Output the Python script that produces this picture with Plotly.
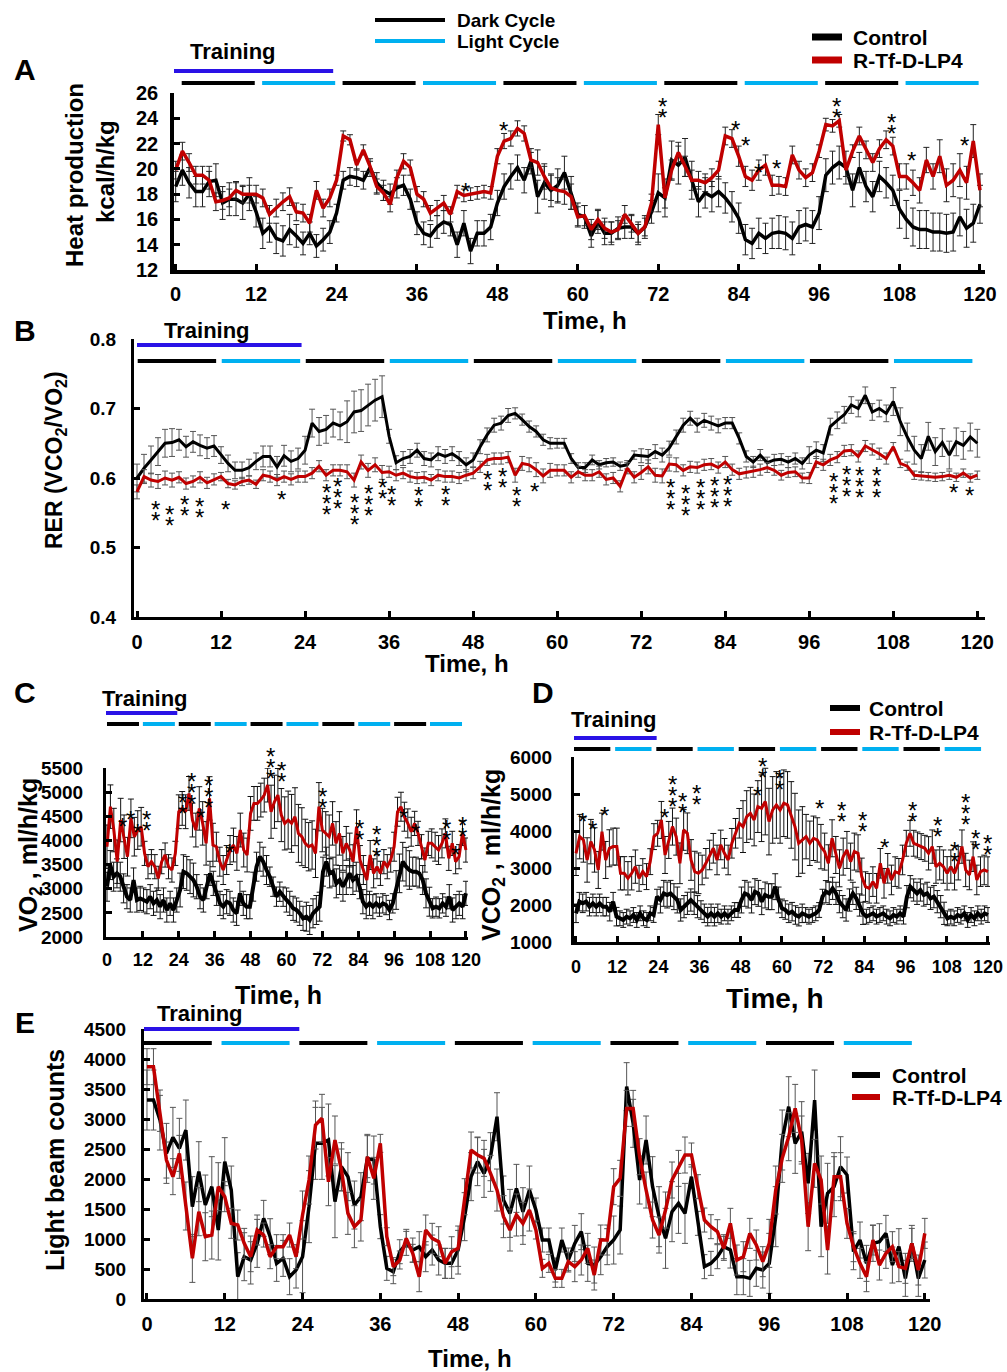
import numpy as np
import plotly.graph_objects as go

W, H = 1007, 1372
SANS = "Liberation Sans, Arial"
RED = "#C00000"
BLUE_L = "#00B0F0"
BLUE_T = "#2A12E6"

# ---------------- DATA ----------------
hours = list(range(121))
tick_hours = [0, 12, 24, 36, 48, 60, 72, 84, 96, 108, 120]
training_period = [0, 23.5]

# Panel A: heat production (kcal/h/kg)
heat_control = [18.6, 19.9, 18.9, 18.2, 18.2, 19.0, 19.1, 17.3, 17.6, 17.6, 17.3, 18.0, 16.6, 14.9, 15.4, 14.5, 14.3, 15.2, 14.7, 14.1,
                14.9, 13.9, 14.4, 15.0, 16.5, 19.1, 19.4, 19.3, 19.1, 20.1, 18.9, 18.3, 18.0, 18.5, 18.7, 17.6, 15.7, 14.9, 14.7, 15.4,
                15.8, 15.6, 14.0, 15.7, 13.5, 14.9, 14.9, 15.4, 17.3, 18.6, 19.4, 20.1, 19.1, 20.6, 17.8, 18.9, 18.3, 18.7, 19.7, 18.1,
                16.4, 16.2, 14.7, 15.8, 14.9, 14.9, 15.3, 15.4, 15.4, 14.9, 15.4, 16.6, 18.1, 17.7, 20.7, 20.3, 20.9, 19.1, 17.4, 18.1,
                17.8, 18.2, 17.7, 17.0, 16.1, 14.4, 14.1, 14.9, 14.5, 14.9, 15.0, 14.9, 14.5, 15.4, 15.6, 15.4, 16.5, 19.5, 20.1, 20.5,
                20.1, 18.3, 20.1, 18.6, 17.8, 19.4, 18.9, 18.3, 16.8, 16.0, 15.4, 15.2, 15.2, 15.0, 15.0, 14.9, 15.0, 16.2, 15.3, 15.7,
                17.2]
heat_treated = [19.9, 21.4, 20.5, 19.5, 19.5, 19.1, 17.4, 17.5, 17.7, 18.3, 18.0, 18.0, 18.0, 17.7, 16.4, 16.9, 17.4, 17.8, 16.6, 16.5,
                15.7, 18.3, 16.9, 17.7, 19.1, 22.6, 22.3, 20.3, 21.5, 20.2, 18.6, 18.1, 17.2, 19.3, 20.6, 20.1, 18.0, 17.6, 16.5, 16.9,
                17.3, 16.4, 18.2, 17.9, 18.0, 18.1, 18.2, 18.1, 21.0, 22.2, 22.4, 23.2, 22.8, 20.7, 20.5, 19.4, 18.5, 18.3, 18.2, 17.8,
                16.2, 16.3, 15.2, 16.0, 15.3, 15.0, 15.2, 16.4, 15.7, 14.9, 15.4, 17.3, 23.5, 17.7, 19.9, 21.3, 20.2, 19.1, 19.1, 18.9,
                19.3, 19.9, 22.6, 22.4, 21.0, 19.4, 19.1, 19.9, 20.3, 18.7, 18.7, 18.6, 21.1, 19.9, 19.3, 19.7, 21.4, 23.5, 23.4, 23.8,
                19.9, 21.4, 22.6, 21.5, 20.5, 21.6, 22.3, 21.8, 19.4, 19.4, 18.9, 18.3, 20.7, 19.4, 21.0, 18.7, 19.1, 19.9, 18.9, 22.2,
                18.3]
heat_control_err6h = [1.2, 1.3, 1.2, 0.9, 0.7, 0.8, 0.9, 1.0, 1.0, 1.3, 0.9, 0.9, 1.5, 1.2, 1.2, 1.3, 1.3, 1.2, 1.5, 1.5]
heat_treated_err6h = [0.7, 0.7, 0.7, 0.7, 0.4, 0.6, 0.6, 0.5, 0.6, 1.0, 0.8, 0.7, 0.8, 0.7, 0.8, 0.7, 0.5, 0.7, 1.0, 1.3]
heat_sig_x = [43.3, 48.9, 72.6, 83.5, 85.0, 86.9, 89.6, 98.6, 106.8, 109.8, 117.7]
heat_sig_y = [18.7, 23.5, 24.5, 23.6, 22.3, 20.2, 20.5, 24.5, 23.3, 21.1, 22.3]
heat_sig_n = [1, 1, 2, 1, 1, 1, 1, 2, 2, 1, 1]

# Panel B: RER
rer_control = [0.600, 0.614, 0.626, 0.638, 0.650, 0.651, 0.655, 0.645, 0.652, 0.647, 0.643, 0.646, 0.633, 0.621, 0.611, 0.611,
               0.615, 0.624, 0.631, 0.631, 0.616, 0.632, 0.624, 0.628, 0.640, 0.679, 0.667, 0.670, 0.679, 0.675, 0.681, 0.695,
               0.697, 0.705, 0.712, 0.717, 0.660, 0.622, 0.628, 0.631, 0.640, 0.628, 0.626, 0.635, 0.631, 0.635, 0.628, 0.619,
               0.626, 0.645, 0.662, 0.676, 0.679, 0.690, 0.693, 0.684, 0.674, 0.667, 0.655, 0.650, 0.650,
               0.650, 0.628, 0.615, 0.615, 0.626, 0.619, 0.622, 0.623, 0.617, 0.619, 0.633, 0.632, 0.631, 0.638, 0.633, 0.643,
               0.659, 0.676, 0.686, 0.676, 0.683, 0.679, 0.675, 0.679, 0.679, 0.657, 0.631, 0.623, 0.633, 0.622, 0.626, 0.627,
               0.623, 0.628, 0.621, 0.633, 0.640, 0.636, 0.674, 0.683, 0.691, 0.705, 0.700, 0.719, 0.695, 0.700, 0.693, 0.710,
               0.681, 0.659, 0.640, 0.628, 0.660, 0.638, 0.651, 0.633, 0.652, 0.647, 0.659, 0.650]
rer_treated = [0.580, 0.602, 0.597, 0.595, 0.600, 0.597, 0.601, 0.592, 0.595, 0.601, 0.593, 0.598, 0.602, 0.592, 0.590, 0.595,
               0.597, 0.591, 0.604, 0.602, 0.597, 0.602, 0.598, 0.602, 0.602, 0.607, 0.617, 0.604, 0.611, 0.611, 0.609, 0.597,
               0.623, 0.611, 0.619, 0.608, 0.609, 0.604, 0.607, 0.602, 0.600, 0.601, 0.597, 0.604, 0.602, 0.602, 0.600, 0.604,
               0.607, 0.616, 0.626, 0.628, 0.628, 0.630, 0.604, 0.621, 0.619, 0.612, 0.603, 0.611, 0.611,
               0.611, 0.601, 0.609, 0.604, 0.604, 0.609, 0.598, 0.600, 0.588, 0.614, 0.601, 0.608, 0.616, 0.604, 0.603, 0.620,
               0.619, 0.611, 0.616, 0.615, 0.619, 0.620, 0.615, 0.623, 0.612, 0.606, 0.608, 0.609, 0.612, 0.615, 0.611, 0.604,
               0.608, 0.609, 0.600, 0.600, 0.623, 0.619, 0.626, 0.630, 0.639, 0.640, 0.631, 0.646, 0.641, 0.635, 0.628, 0.645,
               0.621, 0.617, 0.604, 0.603, 0.602, 0.601, 0.602, 0.604, 0.601, 0.607, 0.600, 0.604]
rer_control_err6h = [0.02, 0.015, 0.012, 0.015, 0.02, 0.03, 0.01, 0.01, 0.01, 0.008, 0.007, 0.006, 0.01, 0.01, 0.008, 0.008, 0.012, 0.012, 0.02, 0.02]
rer_treated_err6h = [0.01, 0.008, 0.006, 0.008, 0.008, 0.01, 0.008, 0.008, 0.008, 0.01, 0.008, 0.008, 0.01, 0.008, 0.008, 0.007, 0.008, 0.008, 0.006, 0.006]
rer_sig_x = [2.7, 4.6, 6.85, 8.9, 12.6, 20.6, 27.1, 28.6, 31.1, 33.0, 35.0, 36.3, 40.2, 44.0, 50.1, 52.2, 54.2, 56.8,
             76.2, 78.3, 80.5, 82.4, 84.3, 99.5, 101.3, 103.2, 105.6, 116.6, 118.9]
rer_sig_y = [0.564, 0.556, 0.571, 0.567, 0.564, 0.578, 0.588, 0.596, 0.573, 0.587, 0.595, 0.585, 0.583, 0.585, 0.607, 0.611,
             0.583, 0.589, 0.595, 0.587, 0.595, 0.598, 0.600, 0.604, 0.614, 0.612, 0.612, 0.588, 0.584]
rer_sig_n = [2, 2, 2, 2, 1, 1, 3, 3, 3, 3, 2, 2, 2, 2, 2, 2, 2, 1, 3, 3, 3, 3, 3, 3, 3, 3, 3, 1, 1]

# Panel C: VO2 (ml/h/kg)
vo2_control = [3041, 3490, 3249, 3318, 3249, 3007, 2835, 2766, 3180, 2766, 2800, 2766, 2731, 2835, 2697, 2766, 2628, 2766, 2559,
               2697, 2559, 2766, 2973, 3353, 3318, 3249, 3180, 3042, 2835, 2766, 3042, 3318, 3111, 2904, 2697, 2628, 2731, 2697,
               2559, 2490, 2904, 2697, 2628, 2628, 3042, 3456, 3663, 3560, 3387, 3249, 3042, 2835, 2938, 2835, 2766, 2697, 2594,
               2559, 2490, 2387, 2421, 2352, 2490, 2559, 2628, 3353, 3560, 3318, 3353, 3111, 3180, 3042, 3180, 3318, 3180, 3249,
               3042, 2731, 2628, 2697, 2628, 2697, 2628, 2697, 2662, 2559, 2697, 2973, 3318, 3560, 3456, 3387, 3353, 3353, 3318,
               3180, 2904, 2731, 2594, 2628, 2594, 2697, 2628, 2835, 2559, 2628, 2697, 2628, 2904]
vo2_treated = [3870, 4700, 4215, 3560, 4422, 4077, 3663, 4457, 4077, 4215, 4284, 3732, 3456, 3560, 3456, 3215, 3560, 3698, 3456,
               3387, 3732, 4594, 4663, 4594, 4974, 4422, 4215, 4663, 4353, 3939, 4870, 3905, 3870, 3560, 3387, 3594, 3801, 3905,
               3732, 4215, 3801, 3698, 4560, 4767, 4767, 4836, 4939, 5146, 4594, 4801, 4939, 4525, 4353, 4422, 4353, 4491, 4146,
               4077, 3939, 3870, 3905, 3732, 4698, 4215, 4146, 4077, 4353, 3939, 4146, 3732, 3939, 3801, 3560, 4284, 3594, 3387,
               3180, 3698, 3318, 3456, 3318, 3560, 3456, 3594, 3870, 4594, 4698, 4491, 4353, 4180, 4353, 4146, 3870, 3594, 3939,
               3939, 3870, 3801, 3939, 4146, 3629, 3939, 3560, 3663, 4146, 3801]
vo2_control_err6h = [300, 250, 250, 250, 350, 250, 250, 250, 300, 200, 250, 300, 300, 300, 250, 200, 400, 300, 200, 250]
vo2_treated_err6h = [450, 400, 250, 250, 350, 450, 300, 350, 350, 550, 600, 500, 450, 350, 300, 250, 300, 250, 300, 250]
vo2_sig_x = [5.2, 7.7, 10.3, 13.3, 25.3, 28.1, 31.1, 34.1, 41.1, 54.7, 58.2, 72.1, 84.4, 90.2, 99.3, 103.3, 113.6, 116.4, 119.0, 121.7]
vo2_sig_y = [4420, 4560, 4290, 4320, 4690, 4880, 4590, 4810, 3880, 5410, 5340, 4810, 4140, 3790, 4590, 4280, 4140, 3830, 4210, 3760]
vo2_sig_n = [1, 1, 1, 2, 2, 3, 1, 3, 1, 3, 2, 2, 2, 3, 1, 1, 2, 1, 2, 2]

# Panel D: VCO2 (ml/h/kg)
vco2_control = [1775, 2090, 2045, 2090, 1955, 2045, 1955, 2045, 1955, 1955, 1820, 2090, 1685, 1640, 1595, 1685, 1640, 1730, 1595,
                1775, 1640, 1595, 1775, 1730, 2225, 2135, 2315, 2270, 2315, 2225, 2135, 1865, 1955, 2045, 2135, 2045, 1955, 1865,
                1775, 1685, 1775, 1685, 1775, 1685, 1775, 1685, 1775, 1865, 1865, 2135, 2315, 2270, 2135, 2360, 2315, 2090, 2270,
                2225, 2225, 2495, 2135, 1910, 1865, 1775, 1820, 1730, 1685, 1775, 1730, 1685, 1730, 1775, 1865, 2225, 2360, 2315,
                2450, 2315, 2090, 1955, 1865, 2135, 2315, 2180, 2000, 1775, 1685, 1730, 1775, 1685, 1730, 1775, 1685, 1640, 1730,
                1685, 1775, 1685, 2225, 2495, 2405, 2315, 2405, 2270, 2315, 2180, 2225, 2090, 1955, 1775, 1640, 1685, 1640, 1730,
                1685, 1775, 1595, 1730, 1640, 1775, 1685, 1775, 1730]
vco2_treated = [3397, 3848, 3758, 3217, 3713, 3488, 2947, 3983, 3217, 3533, 3578, 3578, 2857, 2857, 2722, 2857, 3037, 2722, 2902,
                2767, 3172, 3848, 3938, 4299, 3352, 3758, 4119, 3848, 3127, 4028, 3938, 3217, 2902, 2857, 2947, 3127, 3352, 3533,
                3217, 3623, 3397, 3217, 3668, 3938, 4209, 4119, 4389, 4479, 4299, 4660, 4615, 4795, 4254, 4570, 4705, 4570, 4750,
                4705, 4434, 4119, 3668, 3758, 3848, 3668, 3803, 3758, 3578, 3443, 3127, 3803, 3352, 2992, 3307, 3488, 3172, 3443,
                3397, 2767, 2497, 2452, 2632, 2452, 3127, 2587, 2992, 2677, 2902, 2857, 3217, 3668, 3938, 3668, 3623, 3578, 3533,
                3397, 3578, 3037, 3127, 3037, 2857, 3037, 2857, 3127, 3578, 2947, 2812, 3307, 2677, 2902, 2947, 2902]
vco2_control_err6h = [250, 250, 200, 200, 350, 300, 250, 200, 350, 350, 250, 200, 300, 300, 200, 200, 300, 300, 200, 200]
vco2_treated_err6h = [600, 500, 450, 350, 500, 550, 400, 400, 700, 900, 900, 600, 500, 500, 400, 400, 350, 450, 450, 400]
vco2_sig_x = [1.9, 4.9, 8.3, 25.7, 28.2, 31.1, 35.1, 52.8, 54.3, 59.4, 70.9, 77.2, 83.4, 90.0, 98.0, 105.3, 110.2, 113.6, 116.5, 119.8]
vco2_sig_y = [4430, 4190, 4590, 4530, 4830, 4660, 4880, 5110, 5620, 5290, 4760, 4430, 4160, 3710, 4430, 4020, 3350, 4340, 3660, 3530]
vco2_sig_n = [1, 1, 1, 1, 3, 2, 2, 1, 2, 2, 1, 2, 2, 1, 2, 2, 2, 3, 2, 2]

# Panel E: light beam counts
beam_control = [3316, 3316, 2983, 2427, 2694, 2511, 2816, 1539, 2122, 1566, 1872, 1150, 2289, 1816, 372, 705, 650, 927, 1344, 1038,
                594, 677, 372, 483, 705, 1539, 2594, 2594, 2650, 1622, 2205, 2039, 1566, 1705, 2344, 2316, 1205, 511, 455, 788,
                927, 816, 872, 705, 816, 650, 594, 594, 816, 1372, 2039, 2289, 2094, 2372, 3038, 1650, 1427, 1844, 1455, 1816, 1483,
                983, 983, 483, 983, 650, 927, 1122, 594, 566, 705, 872, 983, 1150, 3539, 2928, 1983, 2650, 1872, 1372, 1011,
                1455, 1594, 1427, 2039, 1261, 539, 594, 705, 872, 816, 372, 372, 344, 511, 483, 594, 1372, 2650, 3205, 2594,
                2789, 1927, 3316, 1205, 1761, 1872, 2205, 2066, 788, 983, 594, 927, 955, 1094, 566, 872, 344, 927, 344, 650]
beam_treated = [3872, 3872, 3094, 2316, 2039, 2427, 1550, 677, 1455, 1038, 1066, 1872, 1705, 1261, 1233, 927, 705, 1150, 1066, 705,
                872, 872, 1066, 705, 1400, 1983, 2900, 3011, 1955, 2650, 2150, 1427, 1205, 1316, 2372, 2011, 2594, 1038, 539, 650,
                1011, 761, 372, 1150, 1011, 955, 594, 788, 844, 1705, 2483, 2400, 2344, 2094, 1816, 1372, 1150, 1400, 1261, 1483, 1150,
                511, 594, 344, 344, 622, 539, 650, 844, 400, 983, 983, 1872, 2011, 3177, 3177, 2372, 1816, 1316, 1066, 1483,
                1983, 2177, 2400, 2400, 1872, 1316, 1205, 1122, 844, 1261, 650, 705, 1094, 900, 622, 927, 1816, 2344, 2705, 3177,
                2650, 1205, 2261, 1983, 816, 2039, 2039, 1261, 872, 594, 372, 983, 566, 761, 872, 539, 511, 927, 483, 1094]
beam_control_err6h = [500, 500, 400, 300, 600, 400, 200, 250, 400, 400, 200, 300, 400, 500, 200, 300, 500, 500, 300, 300]
beam_treated_err6h = [300, 400, 250, 200, 400, 350, 150, 250, 300, 350, 150, 250, 300, 300, 200, 250, 400, 400, 250, 250]

cycle_starts = [0, 12, 24, 36, 48, 60, 72, 84, 96, 108]
cycle_kind = ["dark", "light"] * 5


# ---------------- helpers ----------------
def fx(px):
    return px / W


def fy(py):
    return 1 - py / H


def expand_err(times, block):
    return [block[min(int(t // 6), len(block) - 1)] for t in times]


fig = go.Figure()


def add_axis(idx, xdom, ydom, xrange, yrange, yticks, xfont, yfont, lw=3, xstand=5, ystand=8):
    xa = "xaxis" if idx == 1 else f"xaxis{idx}"
    ya = "yaxis" if idx == 1 else f"yaxis{idx}"
    xr = "x" if idx == 1 else f"x{idx}"
    yr = "y" if idx == 1 else f"y{idx}"
    common = dict(showline=True, linewidth=lw, linecolor="black", ticks="inside", ticklen=6,
                  tickwidth=3, tickcolor="black", showgrid=False, zeroline=False, automargin=False)
    fig.update_layout({
        xa: dict(domain=[fx(xdom[0]), fx(xdom[1])], range=xrange, anchor=yr, tickvals=tick_hours,
                 ticklabelstandoff=xstand, tickfont=xfont, **common),
        ya: dict(domain=[fy(ydom[1]), fy(ydom[0])], range=yrange, anchor=xr, tickvals=yticks,
                 ticklabelstandoff=ystand, tickfont=yfont, **common),
    })
    return xr, yr


def add_series(xr, yr, times, vals, errblock, color, width, errcolor):
    fig.add_trace(go.Scatter(
        x=times, y=vals, xaxis=xr, yaxis=yr, mode="lines",
        line=dict(color=color, width=width), showlegend=False, hoverinfo="skip",
        error_y=dict(type="data", array=expand_err(times, errblock), symmetric=True,
                     color=errcolor, thickness=1, width=3)))


def add_cycles(xr, py, off, length, width=4):
    for s, k in zip(cycle_starts, cycle_kind):
        fig.add_shape(type="line", xref=xr, yref="paper", x0=s + off, x1=s + off + length,
                      y0=fy(py), y1=fy(py), line=dict(color="black" if k == "dark" else BLUE_L, width=width))


def text(px, py, s, size, angle=0, anchor="center"):
    fig.add_annotation(x=fx(px), y=fy(py), xref="paper", yref="paper", text=s, showarrow=False,
                       textangle=angle, xanchor=anchor, yanchor="middle",
                       font=dict(family=SANS, size=size, color="black", weight="bold"))


def add_training(xr, py, tx, ty, x0=None):
    a = training_period[0] if x0 is None else x0
    fig.add_shape(type="line", xref=xr, yref="paper", x0=a, x1=training_period[1],
                  y0=fy(py), y1=fy(py), line=dict(color=BLUE_T, width=4))
    text(tx, ty, "Training", 22)


def add_sig(xr, yr, xs, ys, ns, direction, size=24, step=11):
    for x, y, n in zip(xs, ys, ns):
        for k in range(n):
            fig.add_annotation(x=x, y=y, xref=xr, yref=yr, text="*", showarrow=False,
                               xanchor="center", yanchor="middle",
                               yshift=direction * k * step - 6,
                               font=dict(family=SANS, size=size, color="black"))


def hline(px0, px1, py, color, width):
    fig.add_shape(type="line", xref="paper", yref="paper", x0=fx(px0), x1=fx(px1), y0=fy(py), y1=fy(py),
                  line=dict(color=color, width=width))


def tf(size):
    return dict(family=SANS, size=size, color="black", weight="bold")


# ---------------- Panel A ----------------
xr, yr = add_axis(1, (174, 985), (93, 270), [-0.25, 120.75], [12, 26], list(range(12, 27, 2)),
                  tf(20), tf(20), lw=3.5, xstand=3, ystand=8)
add_series(xr, yr, hours, heat_control, heat_control_err6h, "black", 3.5, "#222")
add_series(xr, yr, hours, heat_treated, heat_treated_err6h, RED, 3.5, "#222")
add_cycles(xr, 83, 0.9, 10.9)
add_training(xr, 71, 233, 52, x0=-0.3)
add_sig(xr, yr, heat_sig_x, heat_sig_y, heat_sig_n, +1)
text(585, 320, "Time, h", 24)
text(75, 175, "Heat production", 24, angle=-90)
text(105, 172, "kcal/h/kg", 24, angle=-90)
text(25, 70, "A", 30)
hline(375, 445, 20, "black", 4)
hline(375, 445, 41, BLUE_L, 4)
text(455, 20, "Dark Cycle", 19, anchor="left")
text(455, 41, "Light Cycle", 19, anchor="left")
hline(812, 842, 37, "black", 7)
hline(812, 842, 60, RED, 7)
text(851, 37, "Control", 21, anchor="left")
text(851, 60, "R-Tf-D-LP4", 21, anchor="left")

# ---------------- Panel B ----------------
xr, yr = add_axis(2, (134, 985), (339, 617), [-0.43, 121.1], [0.4, 0.8], [0.4, 0.5, 0.6, 0.7, 0.8],
                  tf(20), tf(19), xstand=5, ystand=11)
add_series(xr, yr, hours, rer_control, rer_control_err6h, "black", 3, "#555")
add_series(xr, yr, hours, rer_treated, rer_treated_err6h, RED, 3, "#555")
add_cycles(xr, 361, 0.1, 11.2)
add_training(xr, 345, 207, 330)
add_sig(xr, yr, rer_sig_x, rer_sig_y, rer_sig_n, -1)
text(467, 663, "Time, h", 24)
text(55, 460, "RER (VCO<sub>2</sub>/VO<sub>2</sub>)", 23, angle=-90)
text(25, 330, "B", 30)

# ---------------- Panel C ----------------
tC_c = list(np.linspace(0, 120, len(vo2_control)))
tC_t = list(np.linspace(0, 120, len(vo2_treated)))
xr, yr = add_axis(3, (106, 468), (768, 937), [-0.33, 120.7], [2000, 5500], list(range(2000, 5501, 500)),
                  tf(18), tf(19), xstand=4, ystand=16)
add_series(xr, yr, tC_c, vo2_control, vo2_control_err6h, "black", 4, "#111")
add_series(xr, yr, tC_t, vo2_treated, vo2_treated_err6h, RED, 3, "#111")
add_cycles(xr, 724, 0.0, 10.7)
add_training(xr, 713, 145, 698, x0=-1)
add_sig(xr, yr, vo2_sig_x, vo2_sig_y, vo2_sig_n, +1)
text(278, 995, "Time, h", 25)
text(30, 855, "VO<sub>2</sub> , ml/h/kg", 25, angle=-90)
text(25, 693, "C", 30)

# ---------------- Panel D ----------------
xr, yr = add_axis(4, (574, 990), (757, 942), [-0.58, 120.6], [1000, 6000], list(range(1000, 6001, 1000)),
                  tf(18), tf(19), xstand=6, ystand=15)
tD_c = list(np.linspace(0, 120, len(vco2_control)))
tD_t = list(np.linspace(0, 120, len(vco2_treated)))
add_series(xr, yr, tD_c, vco2_control, vco2_control_err6h, "black", 4, "#111")
add_series(xr, yr, tD_t, vco2_treated, vco2_treated_err6h, RED, 3, "#111")
add_cycles(xr, 749, -0.6, 10.6)
add_training(xr, 738, 614, 720, x0=-1.2)
add_sig(xr, yr, vco2_sig_x, vco2_sig_y, vco2_sig_n, +1)
text(775, 998, "Time, h", 28)
text(493, 855, "VCO<sub>2</sub> , ml/h/kg", 25, angle=-90)
text(543, 693, "D", 30)
hline(830, 860, 708, "black", 6)
hline(830, 860, 732, RED, 6)
text(867, 708, "Control", 21, anchor="left")
text(867, 732, "R-Tf-D-LP4", 21, anchor="left")

# ---------------- Panel E ----------------
xr, yr = add_axis(5, (144, 930), (1029, 1299), [-0.46, 120.8], [0, 4500], list(range(0, 4501, 500)),
                  tf(20), tf(19), xstand=5, ystand=11)
add_series(xr, yr, hours, beam_control, beam_control_err6h, "black", 3.5, "#555")
add_series(xr, yr, hours, beam_treated, beam_treated_err6h, RED, 3.5, "#555")
add_cycles(xr, 1043, -0.5, 10.5)
add_training(xr, 1029, 200, 1013, x0=-0.6)
text(470, 1358, "Time, h", 24)
text(55, 1160, "Light beam counts", 25, angle=-90)
text(25, 1022, "E", 30)
hline(852, 880, 1075, "black", 6)
hline(852, 880, 1097, RED, 6)
text(890, 1075, "Control", 21, anchor="left")
text(890, 1097, "R-Tf-D-LP4", 21, anchor="left")

fig.update_layout(width=W, height=H, margin=dict(l=0, r=0, t=0, b=0, pad=0, autoexpand=False),
                  paper_bgcolor="white", plot_bgcolor="white", showlegend=False)

fig.write_html("out.html", config={"displayModeBar": False},
               post_script="document.body.style.margin='0px';document.body.style.padding='0px';"
                           "document.documentElement.style.overflow='hidden';")
